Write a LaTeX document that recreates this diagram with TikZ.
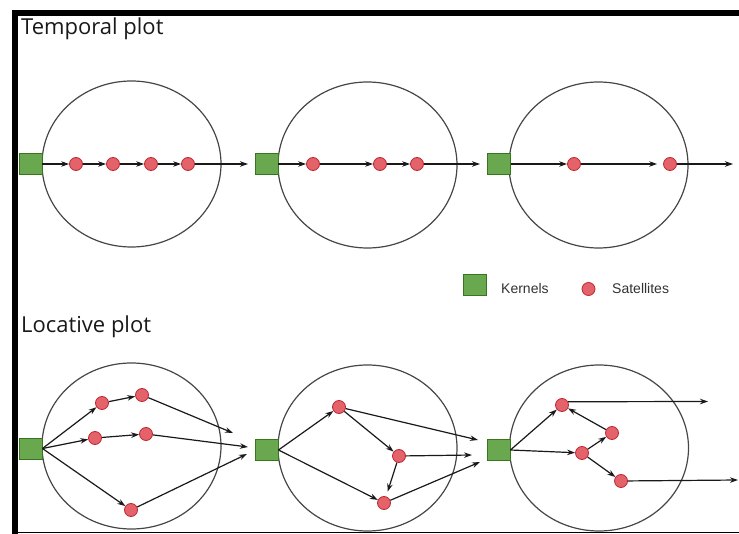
\documentclass[tikz,border=0pt]{standalone}
\usepackage{fontspec}
\setmainfont{Liberation Sans}
\newfontfamily\titlefont{Open Sans}
\usetikzlibrary{shapes.geometric,arrows.meta,calc}
\definecolor{kfill}{RGB}{106,168,79}
\definecolor{kdraw}{RGB}{56,118,29}
\definecolor{sfill}{RGB}{228,98,106}
\definecolor{sdraw}{RGB}{190,40,50}
\definecolor{ringc}{RGB}{70,70,70}
\definecolor{ink}{RGB}{25,25,25}
\definecolor{legc}{RGB}{50,50,50}
\begin{document}
\begin{tikzpicture}[x=1pt,y=-1pt,
  kernel/.style={draw=kdraw,fill=kfill,line width=0.9pt,minimum width=23pt,minimum height=21pt,inner sep=0pt},
  sat/.style={circle,draw=sdraw,fill=sfill,line width=0.8pt,minimum size=13pt,inner sep=0pt},
  ringnode/.style={ellipse,draw=ringc,line width=1.2pt,minimum width=179pt,minimum height=166pt,inner sep=0pt},
  link/.style={draw=ink,line width=1.2pt,-{Stealth[length=8pt,width=5.5pt]}},
  heading/.style={font=\titlefont\fontsize{22}{26}\selectfont,anchor=base west,inner sep=0pt,text=ink},
  keytext/.style={font=\fontsize{14}{16}\selectfont,anchor=base west,inner sep=0pt,text=legc}]
\useasboundingbox (0,0) rectangle (739,534);
% frame
\fill[black] (12,10) rectangle (739,16);
\fill[black] (12,10) rectangle (18,534);
\draw[black,line width=1.5pt] (18,532.5) -- (739,532.5);

% titles
\node[heading] (t1) at (21,34.5) {Temporal plot};
\node[heading] (t2) at (21,333) {Locative plot};

% legend
\node[kernel] (lk) at (474.5,284.5) {};
\node[keytext] (lkt) at (501,294) {Kernels};
\node[sat] (ls) at (588.5,289) {};
\node[keytext] (lst) at (612,294) {Satellites};

% ===== Temporal plot =====
\node[ringnode] (TR1) at (131.5,164) {};
\node[ringnode] (TR2) at (367.5,165) {};
\node[ringnode] (TR3) at (598.5,165) {};

\node[kernel] (TK1) at (30.5,164) {};
\node[kernel] (TK2) at (266.5,164) {};
\node[kernel] (TK3) at (499,164) {};

\node[sat] (a1) at (76,164) {};
\node[sat] (a2) at (113,164) {};
\node[sat] (a3) at (151,164) {};
\node[sat] (a4) at (188,164) {};
\coordinate (ae) at (248,164);

\node[sat] (b1) at (313,164) {};
\node[sat] (b2) at (380,164) {};
\node[sat] (b3) at (417,164) {};
\coordinate (be) at (480,164);

\node[sat] (c1) at (574,164) {};
\node[sat] (c2) at (670,164) {};
\coordinate (ce) at (733,164);

\draw[link] (TK1) -- (a1);
\draw[link] (a1) -- (a2);
\draw[link] (a2) -- (a3);
\draw[link] (a3) -- (a4);
\draw[link] (a4) -- (ae);

\draw[link] (TK2) -- (b1);
\draw[link] (b1) -- (b2);
\draw[link] (b2) -- (b3);
\draw[link] (b3) -- (be);

\draw[link] (TK3) -- (c1);
\draw[link,shorten >=6pt] (c1) -- (c2);
\draw[link] (c2) -- (ce);

% ===== Locative plot =====
\node[ringnode] (LR1) at (131.5,446) {};
\node[ringnode] (LR2) at (367.5,448) {};
\node[ringnode] (LR3) at (599,448) {};

\node[kernel] (LK1) at (30.5,448.5) {};
\node[kernel] (LK2) at (266.5,450) {};
\node[kernel] (LK3) at (498.5,450) {};

% circle 1
\node[sat] (p1) at (102,403) {};
\node[sat] (p2) at (142,395) {};
\node[sat] (p3) at (95,438) {};
\node[sat] (p4) at (146,434) {};
\node[sat] (p5) at (131,510) {};
\coordinate (pe1) at (233,433);
\coordinate (pe2) at (248,447);
\coordinate (pe3) at (247,454);
\draw[link] (LK1.east) -- (p1);
\draw[link] (p1) -- (p2);
\draw[link] (p2) -- (pe1);
\draw[link] (LK1.east) -- (p3);
\draw[link] (p3) -- (p4);
\draw[link] (p4) -- (pe2);
\draw[link] (LK1.east) -- (p5);
\draw[link] (p5) -- (pe3);

% circle 2
\node[sat] (qA) at (339,407) {};
\node[sat] (qB) at (399,456) {};
\node[sat] (qC) at (384,503) {};
\coordinate (qe1) at (478,440);
\coordinate (qe2) at (472,455);
\coordinate (qe3) at (480,462);
\draw[link] (LK2.east) -- (qA);
\draw[link] (LK2.east) -- (qC);
\draw[link] (qA) -- (qB);
\draw[link,shorten >=5pt] (qB) -- (qC);
\draw[link] (qA) -- (qe1);
\draw[link] (qB) -- (qe2);
\draw[link] (qC) -- (qe3);

% circle 3
\node[sat] (rP) at (562,405) {};
\node[sat] (rQ) at (612,433) {};
\node[sat] (rR) at (582,453) {};
\node[sat] (rS) at (621,481) {};
\coordinate (re1) at (708,401.5);
\coordinate (re2) at (738,480);
\draw[link] (LK3.east) -- (rP);
\draw[link] (LK3.east) -- (rR);
\draw[link] (rR) -- (rQ);
\draw[link] (rQ) -- (rP);
\draw[link] (rR) -- (rS);
\draw[link] (rP.28) -- (re1);
\draw[link] (rS) -- (re2);
\end{tikzpicture}
\end{document}
